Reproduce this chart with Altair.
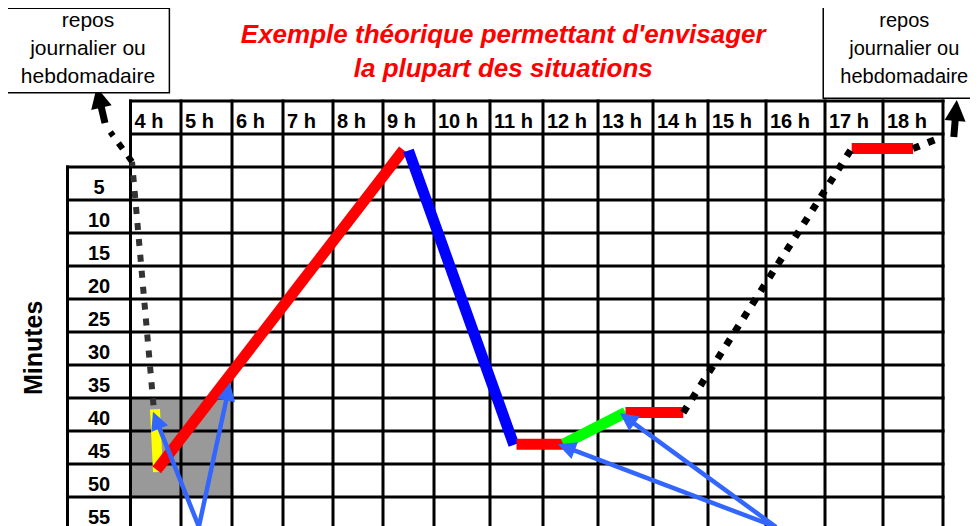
import math
import altair as alt
import pandas as pd

FONT = "Liberation Sans"

# ---------------- data ----------------
hours = list(range(4, 19))
hour_labels = [f"{h} h" for h in hours]
minute_rows = [5, 10, 15, 20, 25, 30, 35, 40, 45, 50, 55]

# time path (x = hour column, y = minute row)
yellow_x = [3.985, 4.045]
yellow_m = [39.2, 48.7]
red1_x = [4.02, 8.9]
red1_m = [48.4, -0.1]
blue_x = [9.0, 10.95]
blue_m = [0.0, 44.6]
red2_x = [11.0, 11.87]
red2_m = [44.5, 44.5]
green_x = [11.87, 13.0]
green_m = [44.5, 39.7]
red3_x = [13.0, 14.05]
red3_m = [39.7, 39.7]
red4_x = [16.96, 18.0]
red4_m = [-0.3, -0.3]

# dotted links to the rest periods
dotgray_x = [3.955, 3.53]
dotgray_m = [38.6, 1.7]
dotblack_left_x = [3.53, 3.18]
dotblack_left_m = [1.7, -2.8]
dotblack_right_x = [14.05, 16.96]
dotblack_right_m = [39.7, -0.3]
dotblack_end_x = [18.0, 18.5]
dotblack_end_m = [-0.3, -2.1]

# arrows: (source x, source m, tip x, tip m)
black_arrow_src_x = [3.095, 18.68]
black_arrow_src_m = [-4.17, -2.05]
black_arrow_tip_x = [2.963, 18.73]
black_arrow_tip_m = [-9.58, -7.65]
blue_arrow_src_x = [4.85, 4.85, 15.67, 15.67]
blue_arrow_src_m = [57.0, 57.0, 57.05, 57.05]
blue_arrow_tip_x = [3.945, 5.46, 11.77, 12.9]
blue_arrow_tip_m = [39.6, 35.2, 44.5, 39.8]

box_text = ["repos", "journalier ou", "hebdomadaire"]
title_lines = ["Exemple théorique permettant d'envisager", "la plupart des situations"]

# ---------------- scales ----------------
X_DOMAIN = [2.5 + i for i in range(17)]
X_RANGE = [59.5, 122.5, 173, 224, 275, 325, 375, 426, 482, 535, 590, 645, 700, 758, 817, 875, 935]
Y_DOMAIN = [-7.5, 57.5]
Y_RANGE = [93, 522]

xs = alt.Scale(domain=X_DOMAIN, range=X_RANGE, zero=False, nice=False)
ys = alt.Scale(domain=Y_DOMAIN, range=Y_RANGE, zero=False, nice=False)


def px(x):
    d, r = X_DOMAIN, X_RANGE
    i = 0
    while i < len(d) - 2 and x > d[i + 1]:
        i += 1
    return r[i] + (x - d[i]) * (r[i + 1] - r[i]) / (d[i + 1] - d[i])


def ix(p):
    d, r = X_DOMAIN, X_RANGE
    i = 0
    while i < len(r) - 2 and p > r[i + 1]:
        i += 1
    return d[i] + (p - r[i]) * (d[i + 1] - d[i]) / (r[i + 1] - r[i])


def py(m):
    return Y_RANGE[0] + (m - Y_DOMAIN[0]) * (Y_RANGE[1] - Y_RANGE[0]) / (Y_DOMAIN[1] - Y_DOMAIN[0])


def iy(p):
    return Y_DOMAIN[0] + (p - Y_RANGE[0]) * (Y_DOMAIN[1] - Y_DOMAIN[0]) / (Y_RANGE[1] - Y_RANGE[0])


X = lambda f="x": alt.X(f"{f}:Q", scale=xs, axis=None)
Y = lambda f="y": alt.Y(f"{f}:Q", scale=ys, axis=None)

# ---------------- grid ----------------
rules = []
for b in X_DOMAIN[1:]:
    rules.append(dict(x=b, x2=b, y=-7.5, y2=57.5))
rules.append(dict(x=2.5, x2=2.5, y=2.5, y2=57.5))
for yb in [-7.5, -2.5]:
    rules.append(dict(x=3.5, x2=18.5, y=yb, y2=yb))
for yb in [2.5 + 5 * k for k in range(12)]:
    rules.append(dict(x=2.5, x2=18.5, y=yb, y2=yb))
grid = alt.Chart(pd.DataFrame(rules)).mark_rule(
    color="black", strokeWidth=3, strokeCap="square"
).encode(x=X(), x2="x2", y=Y(), y2="y2")

shade = alt.Chart(pd.DataFrame([dict(x=3.5, x2=5.5, y=37.5, y2=52.5)])).mark_rect(
    color="#999999"
).encode(x=X(), x2="x2", y=Y(), y2="y2")

# ---------------- path segments ----------------
def seg_rows(name, xsv, msv, color, width):
    return [dict(seg=name, o=i, x=a, y=b, color=color, w=width) for i, (a, b) in enumerate(zip(xsv, msv))]

path_rows = []
path_rows += seg_rows("yellow", yellow_x, yellow_m, "#ffff00", 10)
path_rows += seg_rows("red1", red1_x, red1_m, "#ff0000", 11)
path_rows += seg_rows("blue", blue_x, blue_m, "#0000ff", 11)
path_rows += seg_rows("red2", red2_x, red2_m, "#ff0000", 11)
path_rows += seg_rows("green", green_x, green_m, "#00ff00", 11)
path_rows += seg_rows("red3", red3_x, red3_m, "#ff0000", 11)
path_rows += seg_rows("red4", red4_x, red4_m, "#ff0000", 11)
paths = alt.Chart(pd.DataFrame(path_rows)).mark_line(strokeCap="butt").encode(
    x=X(), y=Y(), detail="seg:N", order="o:Q",
    color=alt.Color("color:N", scale=None),
    strokeWidth=alt.StrokeWidth("w:Q", scale=None),
)

dot_rows = []
dot_rows += seg_rows("g", dotgray_x, dotgray_m, "#333333", 6)
dot_rows += seg_rows("l", dotblack_left_x, dotblack_left_m, "#000000", 6)
dot_rows += seg_rows("r", dotblack_right_x, dotblack_right_m, "#000000", 7)
dot_rows += seg_rows("e", dotblack_end_x, dotblack_end_m, "#000000", 7)
dots = alt.Chart(pd.DataFrame(dot_rows)).mark_line(strokeCap="butt", strokeDash=[7, 9]).encode(
    x=X(), y=Y(), detail="seg:N", order="o:Q",
    color=alt.Color("color:N", scale=None),
    strokeWidth=alt.StrokeWidth("w:Q", scale=None),
)

# ---------------- arrows ----------------
HEAD = "M0,0L-0.5,1L0.5,1Z"


def arrows(sx, sm, tx, tm, color, width, head):
    shafts, heads = [], []
    for k, (a, b, c, d) in enumerate(zip(sx, sm, tx, tm)):
        x0, y0, x1, y1 = px(a), py(b), px(c), py(d)
        dx, dy = x1 - x0, y1 - y0
        L = math.hypot(dx, dy)
        ux, uy = dx / L, dy / L
        ex, ey = x1 - ux * head * 0.7, y1 - uy * head * 0.7
        shafts += [dict(seg=k, o=0, x=a, y=b), dict(seg=k, o=1, x=ix(ex), y=iy(ey))]
        ang = math.degrees(math.atan2(dx, -dy)) % 360
        heads.append(dict(x=c, y=d, angle=ang))
    s = alt.Chart(pd.DataFrame(shafts)).mark_line(color=color, strokeWidth=width, strokeCap="butt").encode(
        x=X(), y=Y(), detail="seg:N", order="o:Q")
    h = alt.Chart(pd.DataFrame(heads)).mark_point(
        shape=HEAD, filled=True, color=color, opacity=1, size=(2 * head) ** 2, strokeWidth=0
    ).encode(x=X(), y=Y(), angle=alt.Angle("angle:Q", scale=None))
    return [s, h]


black_arrows = arrows(black_arrow_src_x, black_arrow_src_m, black_arrow_tip_x, black_arrow_tip_m, "black", 7, 21)
blue_arrows = arrows(blue_arrow_src_x, blue_arrow_src_m, blue_arrow_tip_x, blue_arrow_tip_m, "#3366ff", 4.5, 18)

# ---------------- boxes & text ----------------
boxes = alt.Chart(pd.DataFrame([
    dict(x=1.54, x2=4.27, y=-21.55, y2=-8.76),
    dict(x=16.47, x2=19.07, y=-21.7, y2=-7.9),
])).mark_rect(fill="white", stroke="black", strokeWidth=1.5).encode(x=X(), x2="x2", y=Y(), y2="y2")

box_lines_m = [-18.67, -14.48, -10.27]
left_box_txt = alt.Chart(pd.DataFrame(dict(x=[2.825] * 3, y=box_lines_m, t=box_text))).mark_text(
    font=FONT, fontSize=21, color="black", align="center", baseline="alphabetic"
).encode(x=X(), y=Y(), text="t:N")
right_box_txt = alt.Chart(pd.DataFrame(dict(x=[17.855] * 3, y=box_lines_m, t=box_text))).mark_text(
    font=FONT, fontSize=20, color="black", align="center", baseline="alphabetic"
).encode(x=X(), y=Y(), text="t:N")

title = alt.Chart(pd.DataFrame([
    dict(x=10.75, y=-16.24, t=title_lines[0]),
    dict(x=10.75, y=-11.09, t=title_lines[1]),
])).mark_text(
    font=FONT, fontSize=26, fontWeight="bold", fontStyle="italic", color="#ff0000",
    align="center", baseline="alphabetic"
).encode(x=X(), y=Y(), text="t:N")

hour_txt = alt.Chart(pd.DataFrame(dict(x=[h - 0.5 for h in hours], y=[-5] * len(hours), t=hour_labels))).mark_text(
    font=FONT, fontSize=20, fontWeight="bold", color="black", align="left", baseline="alphabetic", dx=4, dy=10
).encode(x=X(), y=Y(), text="t:N")

row_txt = alt.Chart(pd.DataFrame(dict(x=[3.0] * len(minute_rows), y=minute_rows, t=[str(m) for m in minute_rows]))).mark_text(
    font=FONT, fontSize=20, fontWeight="bold", color="black", align="center", baseline="alphabetic", dy=10
).encode(x=X(), y=Y(), text="t:N")

minutes_lbl = alt.Chart(pd.DataFrame([dict(x=1.968, y=29.9, t="Minutes")])).mark_text(
    font=FONT, fontSize=25, fontWeight="bold", color="black", align="center", baseline="middle", angle=270
).encode(x=X(), y=Y(), text="t:N")

chart = alt.layer(
    shade, grid, paths, dots, *black_arrows, boxes, left_box_txt, right_box_txt, title,
    hour_txt, row_txt, minutes_lbl, *blue_arrows
).properties(
    width=962, height=518, autosize=alt.AutoSizeParams(type="none"), padding=0, background="white"
).configure_view(stroke=None)

chart.save("out.html", embed_options={"renderer": "svg", "actions": False})
